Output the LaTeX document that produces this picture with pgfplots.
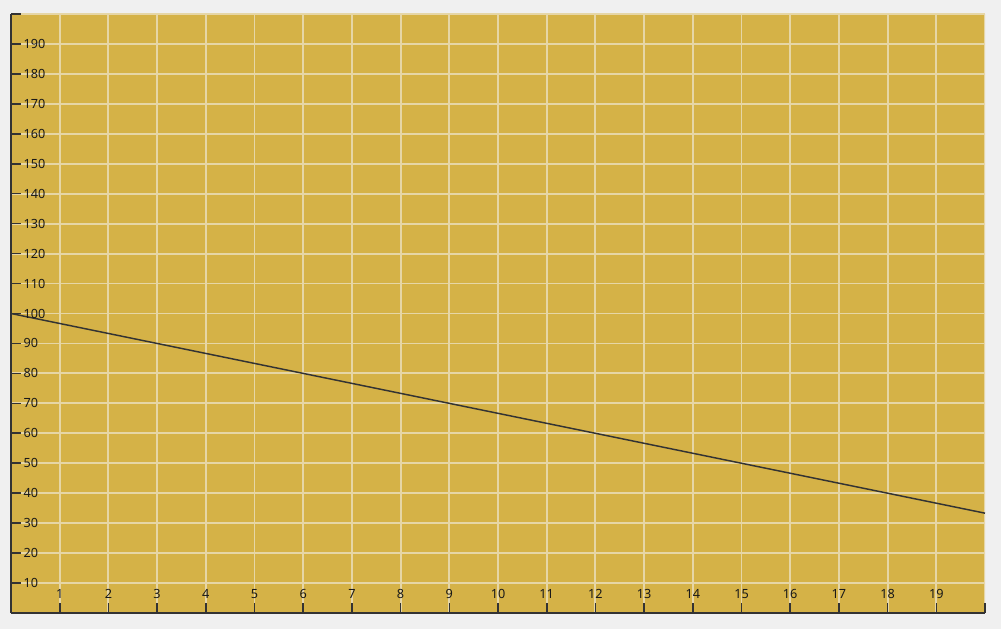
\documentclass[border=0pt]{standalone}
\usepackage{pgfplots}
\pgfplotsset{compat=1.18}
\usepackage{fontspec}
\setmainfont{Noto Sans}
\definecolor{bg}{HTML}{F0F0F0}
\definecolor{plotbg}{HTML}{D5B247}
\definecolor{gridc}{HTML}{E6D6A6}
\definecolor{axc}{HTML}{333333}
\begin{document}
\begin{tikzpicture}
\fill[bg] (0pt,0pt) rectangle (750.75pt,471.75pt);
\begin{axis}[
 axis on top,
 at={(8.25pt,12pt)}, anchor=south west,
 scale only axis, width=730.5pt, height=449.25pt,
 xmin=0, xmax=20, ymin=0, ymax=200,
 axis background/.style={fill=plotbg},
 axis x line*=bottom, axis y line*=left,
 axis line style={axc, line width=1.1pt},
 xtick={1,...,19}, ytick={10,20,...,190},
 extra x ticks={0,20}, extra x tick labels={},
 extra y ticks={0,200}, extra y tick labels={},
 extra x tick style={grid=none}, extra y tick style={grid=none},
 every tick/.style={axc, line width=1.2pt},
 /pgf/number format/assume math mode=true,
 ticklabel style={font=\fontsize{9.5}{10}\selectfont, text=black!90},
 yticklabel style={anchor=west, xshift=6pt},
 xticklabel style={anchor=south, yshift=7pt},
 xtick align=inside, ytick align=inside,
 major tick length=7.5pt,
]
\pgfplotsinvokeforeach{1,...,20}{\draw[gridc, line width=1.4pt] (axis cs:#1,0) -- (axis cs:#1,200);}
\pgfplotsinvokeforeach{10,20,...,200}{\draw[gridc, line width=1.4pt] (axis cs:0,#1) -- (axis cs:20,#1);}
\addplot[axc, line width=1.1pt] coordinates {(0,100) (3,90) (6,80) (9,70) (12,60) (15,50) (18,40) (20,33.33)};
\end{axis}
\end{tikzpicture}
\end{document}
